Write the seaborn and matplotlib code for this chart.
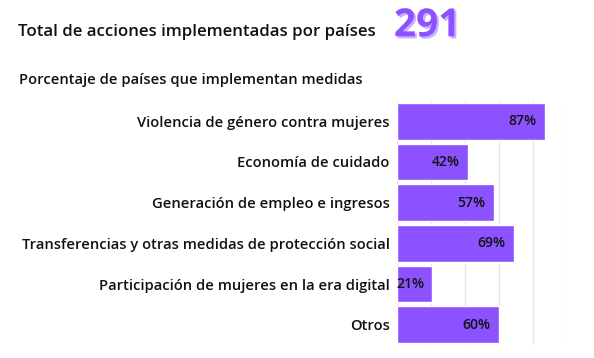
import matplotlib
matplotlib.use("Agg")
import matplotlib.pyplot as plt
import matplotlib.patheffects as pe
import seaborn as sns
import pandas as pd

categorias = [
    "Violencia de género contra mujeres",
    "Economía de cuidado",
    "Generación de empleo e ingresos",
    "Transferencias y otras medidas de protección social",
    "Participación de mujeres en la era digital",
    "Otros",
]
porcentajes = [87, 42, 57, 69, 21, 60]
total_acciones = 291
x_ticks = [0, 20, 40, 60, 80, 100]

PURPLE = "#8c52ff"
FONT = "Open Sans"

df = pd.DataFrame({"categoria": categorias, "porcentaje": porcentajes})

sns.set_theme(style="white")
plt.rcParams["font.family"] = [FONT, "DejaVu Sans"]

fig = plt.figure(figsize=(5.94, 3.58), dpi=100)
ax = fig.add_axes([0.668, 0.036, 0.286, 0.682])

sns.barplot(data=df, x="porcentaje", y="categoria", color=PURPLE,
            saturation=1, width=0.9, ax=ax, zorder=2)

ax.set_xlim(0, 100)
ax.set_xticks(x_ticks)
ax.xaxis.grid(True, color="#e3e3e3", linewidth=0.9, zorder=0)
ax.set_axisbelow(True)
ax.tick_params(axis="x", labelbottom=False, length=0)
ax.tick_params(axis="y", length=0, pad=5)
for lab in ax.get_yticklabels():
    lab.set_fontsize(10.6)
    lab.set_fontweight("semibold")
    lab.set_color("#111111")
ax.set_xlabel("")
ax.set_ylabel("")
for s in ax.spines.values():
    s.set_visible(False)

for i, v in enumerate(porcentajes):
    ax.annotate(f"{v}%", xy=(v, i), xytext=(-6, 0), textcoords="offset points",
                ha="right", va="center", fontsize=10, fontweight="semibold",
                color="#111111", zorder=3)

fig.text(0.03, 0.911, "Total de acciones implementadas por países",
         fontsize=12.1, fontweight="semibold", color="#111111", va="center")
fig.text(0.663, 0.928, str(total_acciones), fontsize=28, fontweight="bold",
         color=PURPLE, va="center",
         path_effects=[pe.SimplePatchShadow(offset=(1.5, -1.5),
                                            shadow_rgbFace="#c7b0ff", alpha=1),
                       pe.Normal()])
fig.text(0.032, 0.777, "Porcentaje de países que implementan medidas",
         fontsize=10.6, fontweight="semibold", color="#111111", va="center")

fig.savefig("out.png", dpi=100)
